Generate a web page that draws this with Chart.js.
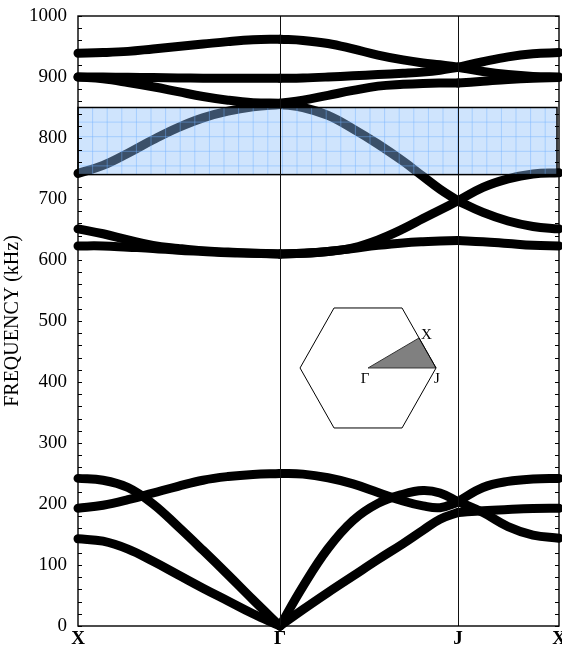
<!DOCTYPE html>
<html>
<head>
<meta charset="utf-8">
<script src="https://cdn.jsdelivr.net/npm/chart.js@4"></script>
<style>
  html, body { margin: 0; padding: 0; background: #fff; }
  #wrap { width: 562px; height: 647px; }
</style>
</head>
<body>
<div id="wrap"><canvas id="bands"></canvas></div>
<script>
'use strict';

/* ── k-path: X → Γ → J → X (distance along path, arbitrary units) ── */
const symTicks  = [0, 202, 380, 481];
const symLabels = ['X', 'Γ', 'J', 'X'];

const kXG = [0, 25, 50, 75, 100, 125, 150, 175, 202];
const kGJ = [202, 225, 250, 275, 300, 325, 345, 362, 380];
const kJX = [380, 405, 430, 455, 481];

// frequencies (kHz), X → Γ
const xgTop    = [939, 940, 942, 946, 950, 954, 958, 961, 962];
const xgFlat   = [900, 900, 899.5, 899, 898.5, 898, 898, 898, 898];
const xgDrop   = [900, 897, 891, 884, 876, 868, 862, 858, 857];
const xgRise   = [742, 755, 775, 797, 817, 833, 844, 851, 855];
const xgOpt1   = [651, 643, 633, 624, 619, 615, 613, 611, 610];
const xgOpt2   = [623, 623, 621, 619, 616, 614, 612, 611, 610];
const xgAcA    = [242, 239, 227, 200, 163, 124, 84, 43, 0];
const xgAcB    = [193, 198, 207, 218, 229, 239, 245, 248.5, 250];
const xgAcC    = [143, 139, 126, 106, 84, 62, 41, 20, 0];

// Γ → J
const gjTop    = [962, 960, 955, 946, 936, 928, 923, 920, 916];
const gjFlat   = [898, 898.5, 900, 902, 904, 906, 908, 911, 916];
const gjDrop   = [857, 862, 870, 878, 885, 888, 889.5, 890, 890];
const gjFall   = [855, 850, 837, 815, 790, 762, 737, 716, 697];
const gjOpt1   = [610, 611, 614, 620, 633, 651, 668, 682, 697];
const gjOpt2   = [610, 611, 614, 619, 624, 628, 630, 631, 632];
const gjAcU    = [0, 65, 127, 173, 201, 216, 222, 218, 204];
const gjAcA    = [250, 249, 243, 233, 219, 205, 197, 194, 203];
const gjAcD    = [0, 27, 55, 82, 109, 135, 157, 175, 186];

// J → X
const jxTop    = [916, 925, 933, 938, 940];
const jxMid    = [916, 909, 904, 901, 900];
const jxLow    = [890, 893, 896, 898, 899];
const jxRise   = [697, 719, 733, 741, 743];
const jxFall   = [697, 678, 664, 655, 651];
const jxOpt2   = [632, 630, 627, 624, 623];
const jxAcUp   = [204, 227, 237, 241, 242];
const jxAcDown = [204, 186, 163, 149, 144];
const jxAcFlat = [186, 189, 191, 192.5, 193];

// highlighted gap (kHz) and its k-range
const gapLo = 740;
const gapHi = 850;
const gapK  = [0, 479];

const segments = [
    [kXG, xgTop], [kXG, xgFlat], [kXG, xgDrop], [kXG, xgRise], [kXG, xgOpt1], [kXG, xgOpt2],
    [kXG, xgAcA], [kXG, xgAcB], [kXG, xgAcC],
    [kGJ, gjTop], [kGJ, gjFlat], [kGJ, gjDrop], [kGJ, gjFall], [kGJ, gjOpt1], [kGJ, gjOpt2],
    [kGJ, gjAcU], [kGJ, gjAcA], [kGJ, gjAcD],
    [kJX, jxTop], [kJX, jxMid], [kJX, jxLow], [kJX, jxRise], [kJX, jxFall], [kJX, jxOpt2],
    [kJX, jxAcUp], [kJX, jxAcDown], [kJX, jxAcFlat]
];

const SERIF = '"Liberation Serif", "Times New Roman", serif';

const datasets = segments.map(([ks, fs]) => ({
    data: ks.map((k, i) => ({ x: k, y: fs[i] })),
    borderColor: '#000',
    borderWidth: 9,
    borderCapStyle: 'round',
    borderJoinStyle: 'round',
    pointRadius: 0,
    fill: false,
    tension: 0.4,
    clip: 8
}));

/* ── decorations: gap box, symmetry lines, frame, inward ticks, BZ inset ── */
const decor = {
    id: 'decor',
    afterDatasetsDraw(chart) {
        const ctx  = chart.ctx;
        const a    = chart.chartArea;
        const xs   = chart.scales.x;
        const ys   = chart.scales.y;
        ctx.save();

        // gap box
        const bx0 = xs.getPixelForValue(gapK[0]);
        const bx1 = xs.getPixelForValue(gapK[1]);
        const by0 = ys.getPixelForValue(gapHi);
        const by1 = ys.getPixelForValue(gapLo);
        ctx.fillStyle = 'rgba(140,190,250,0.42)';
        ctx.fillRect(bx0, by0, bx1 - bx0, by1 - by0);
        const cell = 14.6;
        ctx.strokeStyle = 'rgba(110,175,255,0.45)';
        ctx.lineWidth = 1;
        ctx.beginPath();
        for (let x = bx0 + cell; x < bx1 - 2; x += cell) { ctx.moveTo(x, by0); ctx.lineTo(x, by1); }
        for (let y = by0 + cell; y < by1 - 2; y += cell) { ctx.moveTo(bx0, y); ctx.lineTo(bx1, y); }
        ctx.stroke();
        ctx.strokeStyle = '#000';
        ctx.lineWidth = 1.5;
        ctx.strokeRect(bx0, by0, bx1 - bx0, by1 - by0);

        // symmetry lines at Γ and J
        ctx.lineWidth = 1;
        ctx.strokeStyle = '#111';
        ctx.beginPath();
        [symTicks[1], symTicks[2]].forEach(k => {
            const x = Math.round(xs.getPixelForValue(k)) + 0.5;
            ctx.moveTo(x, a.top); ctx.lineTo(x, a.bottom);
        });
        ctx.stroke();

        // frame
        ctx.lineWidth = 1.4;
        ctx.strokeStyle = '#000';
        ctx.strokeRect(a.left, a.top, a.right - a.left, a.bottom - a.top);

        // inward ticks every 20 kHz
        ctx.lineWidth = 1;
        ctx.beginPath();
        ys.ticks.forEach(t => {
            const y = Math.round(ys.getPixelForValue(t.value)) + 0.5;
            ctx.moveTo(a.left, y);  ctx.lineTo(a.left + 4, y);
            ctx.moveTo(a.right, y); ctx.lineTo(a.right - 4, y);
        });
        ctx.stroke();

        // Brillouin zone inset
        const w  = a.right - a.left, h = a.bottom - a.top;
        const cx = a.left + 0.603 * w;
        const cy = a.top + 0.577 * h;
        const R  = 68, hh = 60;
        ctx.fillStyle = '#808080';
        ctx.strokeStyle = '#333';
        ctx.beginPath();
        ctx.moveTo(cx, cy);
        ctx.lineTo(cx + R, cy);
        ctx.lineTo(cx + 0.75 * R, cy - hh / 2);
        ctx.closePath();
        ctx.fill(); ctx.stroke();
        ctx.strokeStyle = '#000';
        ctx.beginPath();
        ctx.moveTo(cx - R, cy);
        ctx.lineTo(cx - R / 2, cy - hh);
        ctx.lineTo(cx + R / 2, cy - hh);
        ctx.lineTo(cx + R, cy);
        ctx.lineTo(cx + R / 2, cy + hh);
        ctx.lineTo(cx - R / 2, cy + hh);
        ctx.closePath();
        ctx.stroke();
        ctx.fillStyle = '#000';
        ctx.font = '15px ' + SERIF;
        ctx.textBaseline = 'alphabetic';
        ctx.textAlign = 'left';
        ctx.fillText('X', cx + 0.75 * R + 2, cy - hh / 2 + 1);
        ctx.textBaseline = 'top';
        ctx.textAlign = 'center';
        ctx.fillText('Γ', cx - 3, cy + 4);
        ctx.textAlign = 'left';
        ctx.fillText('J', cx + R - 2, cy + 4);

        ctx.restore();
    }
};

new Chart(document.getElementById('bands').getContext('2d'), {
    type: 'line',
    data: { datasets },
    plugins: [decor],
    options: {
        responsive: true, maintainAspectRatio: false,
        animation: false, devicePixelRatio: 1,
        layout: { padding: { top: 16, right: 3, left: 0, bottom: 0 } },
        plugins: { legend: { display: false }, tooltip: { enabled: false } },
        scales: {
            x: {
                type: 'linear', min: 0, max: symTicks[symTicks.length - 1],
                afterBuildTicks: s => { s.ticks = symTicks.map(v => ({ value: v })); },
                afterFit: s => { s.height = 21; s.paddingLeft = 0; s.paddingRight = 0; },
                ticks: {
                    autoSkip: false, maxRotation: 0, padding: 2, color: '#000',
                    font: { family: SERIF, size: 19, weight: 'bold' },
                    callback: (v, i) => symLabels[i]
                },
                grid: { display: false, drawTicks: false },
                border: { display: false }
            },
            y: {
                min: 0, max: 1000,
                afterFit: s => { s.width = 78; s.paddingTop = 0; s.paddingBottom = 0; },
                ticks: {
                    stepSize: 20, autoSkip: false, padding: 11, color: '#000',
                    font: { family: SERIF, size: 19 },
                    callback: v => (v % 100 === 0 ? v : '')
                },
                grid: { display: false, drawTicks: false },
                border: { display: false },
                title: {
                    display: true, text: 'FREQUENCY (kHz)', color: '#000',
                    font: { family: SERIF, size: 20 },
                    padding: { top: 1, bottom: 0 }
                }
            }
        }
    }
});
</script>
</body>
</html>
